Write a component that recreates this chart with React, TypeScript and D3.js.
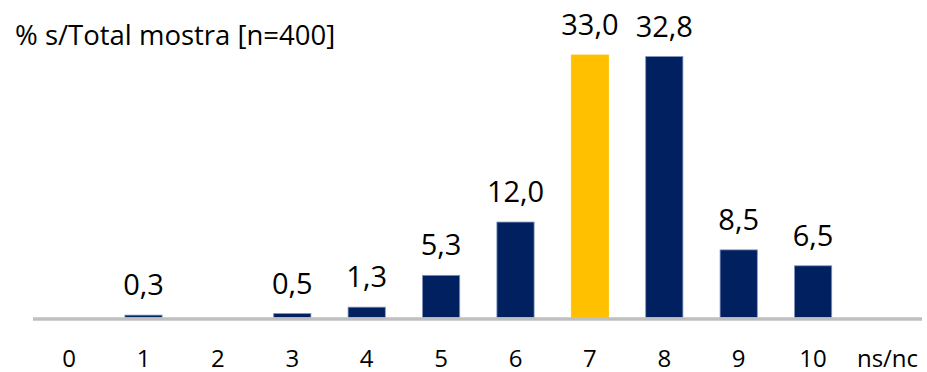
import React from "react";
import * as d3 from "d3";

const categories = ["0", "1", "2", "3", "4", "5", "6", "7", "8", "9", "10", "ns/nc"];
const values: (number | null)[] = [0, 0.3, 0, 0.5, 1.3, 5.3, 12.0, 33.0, 32.8, 8.5, 6.5, null];
const highlightCategory = "7";
const titleText = "% s/Total mostra [n=400]";

const W = 927;
const H = 372;
const FONT = "'Open Sans', 'Noto Sans', sans-serif";
const NAVY = "#002060";
const GOLD = "#FFC000";

export default function App() {
  const x = d3.scaleBand<string>().domain(categories).range([31.9, 924.7]).padding(0.5).paddingOuter(0.25);
  const y = d3.scaleLinear().domain([0, 33]).range([317.5, 55]);
  const fmt = (v: number) => d3.format(".1f")(v).replace(".", ",");

  return (
    <svg width={W} height={H} style={{ position: "absolute", left: 0, top: 0, background: "#fff" }} fontFamily={FONT}>
      <text x={15} y={45} fontSize={27.5} fill="#000">{titleText}</text>
      {categories.map((c, i) => {
        const v = values[i];
        if (v == null || v <= 0) return null;
        const x0 = x(c)!;
        return (
          <g key={c}>
            <rect
              x={x0}
              y={y(v)}
              width={x.bandwidth()}
              height={y(0) - y(v)}
              fill={c === highlightCategory ? GOLD : NAVY}
              stroke={c === highlightCategory ? GOLD : "#7f93c0"}
              strokeWidth={0.8}
            />
            <text x={x0 + x.bandwidth() / 2} y={y(v) - 20} textAnchor="middle" fontSize={29} fill="#000">
              {fmt(v)}
            </text>
          </g>
        );
      })}
      <line x1={33} x2={922} y1={319} y2={319} stroke="#bfbfbf" strokeWidth={3.5} />
      {categories.map((c) => (
        <text key={c} x={x(c)! + x.bandwidth() / 2} y={366.5} textAnchor="middle" fontSize={24} fill="#000">
          {c}
        </text>
      ))}
    </svg>
  );
}
